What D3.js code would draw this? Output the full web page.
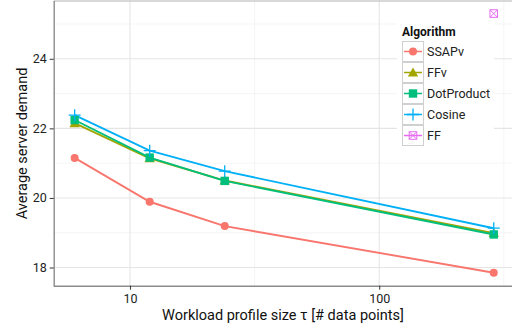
<!DOCTYPE html>
<html><head><meta charset="utf-8">
<script src="https://cdn.jsdelivr.net/npm/d3@7"></script>
<style>body{margin:0;background:#fff}svg{display:block;font-family:Roboto,sans-serif}</style>
</head><body><svg id="c" width="512" height="326"></svg>
<script>
const sizes = [6, 12, 24, 288];
const algorithms = ["SSAPv", "FFv", "DotProduct", "Cosine", "FF"];
const ssapv = [21.15, 19.89, 19.19, 17.85];
const ffv = [22.15, 21.14, 20.50, 18.99];
const dotProduct = [22.24, 21.16, 20.49, 18.95];
const cosine = [22.38, 21.36, 20.77, 19.13];
const ffSizes = [288];
const ff = [25.30];
const xTicks = [10, 100];
const yTicks = [18, 20, 22, 24];
const colors = ["#F8766D", "#A3A500", "#00BF7D", "#00B0F6", "#E76BF3"];
const shapes = ["circle", "triangle", "square", "plus", "boxcross"];

const series = [
  {name: "SSAPv", xs: sizes, ys: ssapv},
  {name: "FFv", xs: sizes, ys: ffv},
  {name: "DotProduct", xs: sizes, ys: dotProduct},
  {name: "Cosine", xs: sizes, ys: cosine},
  {name: "FF", xs: ffSizes, ys: ff}
];

const svg = d3.select("#c");
const L = 53.7, R = 514.7, T = 0.6, B = 285.7;

const allX = series.flatMap(s => s.xs), allY = series.flatMap(s => s.ys);
const lx0 = Math.log10(d3.min(allX)), lx1 = Math.log10(d3.max(allX));
const ex = (lx1 - lx0) * 0.05;
const y0 = d3.min(allY), y1 = d3.max(allY), ey = (y1 - y0) * 0.05;
const x = d3.scaleLog().domain([Math.pow(10, lx0 - ex), Math.pow(10, lx1 + ex)]).range([L, R]);
const y = d3.scaleLinear().domain([y0 - ey, y1 + ey]).range([B, T]);

const g = svg.append("g");
// grid
const minorX = [Math.pow(10, 0.5), Math.pow(10, 1.5), Math.pow(10, 2.5)];
const minorY = [19, 21, 23, 25];
g.selectAll(".mx").data(minorX.filter(v => x(v) > L && x(v) < 512)).join("line")
  .attr("x1", d => x(d)).attr("x2", d => x(d)).attr("y1", T).attr("y2", B)
  .attr("stroke", "#F2F2F2").attr("stroke-width", 0.8);
g.selectAll(".my").data(minorY).join("line")
  .attr("x1", L).attr("x2", 512).attr("y1", d => y(d)).attr("y2", d => y(d))
  .attr("stroke", "#F2F2F2").attr("stroke-width", 0.8);
g.selectAll(".Mx").data(xTicks).join("line")
  .attr("x1", d => x(d)).attr("x2", d => x(d)).attr("y1", T).attr("y2", B)
  .attr("stroke", "#E5E5E5").attr("stroke-width", 1.1);
g.selectAll(".My").data(yTicks).join("line")
  .attr("x1", L).attr("x2", 512).attr("y1", d => y(d)).attr("y2", d => y(d))
  .attr("stroke", "#E5E5E5").attr("stroke-width", 1.1);

// top border
svg.append("line").attr("x1", L).attr("x2", 512).attr("y1", T + 0.4).attr("y2", T + 0.4)
  .attr("stroke", "#B3B3B3").attr("stroke-width", 1);

// axes
const xa = svg.append("g").attr("transform", `translate(0,${B})`)
  .call(d3.axisBottom(x).tickValues(xTicks).tickFormat(d3.format("d")).tickSize(4).tickSizeOuter(0));
const ya = svg.append("g").attr("transform", `translate(${L},0)`)
  .call(d3.axisLeft(y).tickValues(yTicks).tickSize(4).tickSizeOuter(0));
[xa, ya].forEach(a => {
  a.select(".domain").attr("stroke", "#8C8C8C").attr("stroke-width", 1.4);
  a.selectAll(".tick line").attr("stroke", "#333").attr("stroke-width", 1);
  a.selectAll("text").attr("fill", "#222").style("font-size", "12.5px").style("font-family", "Roboto");
});
xa.select(".domain").attr("d", `M${L},0.5H512`);
xa.selectAll("text").attr("dy", "0.71em").attr("y", 8);
ya.selectAll("text").attr("x", -7);

// axis titles
svg.append("text").attr("x", 283).attr("y", 320).attr("text-anchor", "middle")
  .style("font-size", "14.5px").attr("fill", "#111").text("Workload profile size τ [# data points]");
svg.append("text").attr("transform", "translate(27,143.5) rotate(-90)").attr("text-anchor", "middle")
  .style("font-size", "14.5px").attr("fill", "#111").text("Average server demand");

// lines
const line = d3.line().x(d => x(d[0])).y(d => y(d[1]));
series.forEach((s, i) => {
  if (s.xs.length < 2) return;
  svg.append("path").datum(s.xs.map((v, j) => [v, s.ys[j]])).attr("d", line)
    .attr("fill", "none").attr("stroke", colors[i]).attr("stroke-width", 1.9);
});

function marker(sel, shape, color, cx, cy) {
  if (shape === "circle") sel.append("circle").attr("cx", cx).attr("cy", cy).attr("r", 4).attr("fill", color);
  else if (shape === "triangle") sel.append("path")
    .attr("d", `M${cx},${cy - 5}L${cx + 5.2},${cy + 4}L${cx - 5.2},${cy + 4}Z`).attr("fill", color);
  else if (shape === "square") sel.append("rect").attr("x", cx - 4.2).attr("y", cy - 4.2)
    .attr("width", 8.4).attr("height", 8.4).attr("fill", color);
  else if (shape === "plus") sel.append("path")
    .attr("d", `M${cx - 6},${cy}H${cx + 6}M${cx},${cy - 6}V${cy + 6}`).attr("stroke", color).attr("stroke-width", 1.3).attr("fill", "none");
  else if (shape === "boxcross") sel.append("path")
    .attr("d", `M${cx - 3.8},${cy - 3.8}h7.6v7.6h-7.6ZM${cx - 3.8},${cy - 3.8}L${cx + 3.8},${cy + 3.8}M${cx + 3.8},${cy - 3.8}L${cx - 3.8},${cy + 3.8}`)
    .attr("stroke", color).attr("stroke-width", 1).attr("fill", "none");
}

// points
series.forEach((s, i) => {
  const pg = svg.append("g");
  s.xs.forEach((v, j) => marker(pg, shapes[i], colors[i], x(v), y(s.ys[j])));
});

// legend
const lg = svg.append("g");
lg.append("rect").attr("x", 397).attr("y", 22).attr("width", 97).attr("height", 127).attr("fill", "#fff");
lg.append("text").attr("x", 402).attr("y", 36).style("font-size", "12px").style("font-weight", "bold")
  .attr("fill", "#111").text("Algorithm");
algorithms.forEach((a, i) => {
  const ky = 41 + i * 21;
  lg.append("rect").attr("x", 402.5).attr("y", ky + 0.5).attr("width", 21).attr("height", 20)
    .attr("fill", "#fff").attr("stroke", "#D0D0D0").attr("stroke-width", 1);
  lg.append("line").attr("x1", 404).attr("x2", 422).attr("y1", ky + 10.5).attr("y2", ky + 10.5)
    .attr("stroke", colors[i]).attr("stroke-width", 1.5);
  marker(lg, shapes[i], colors[i], 413, ky + 10.5);
  lg.append("text").attr("x", 427).attr("y", ky + 10.5).attr("dy", "0.35em").style("font-size", "12.5px")
    .attr("fill", "#222").text(a);
});
</script></body></html>
